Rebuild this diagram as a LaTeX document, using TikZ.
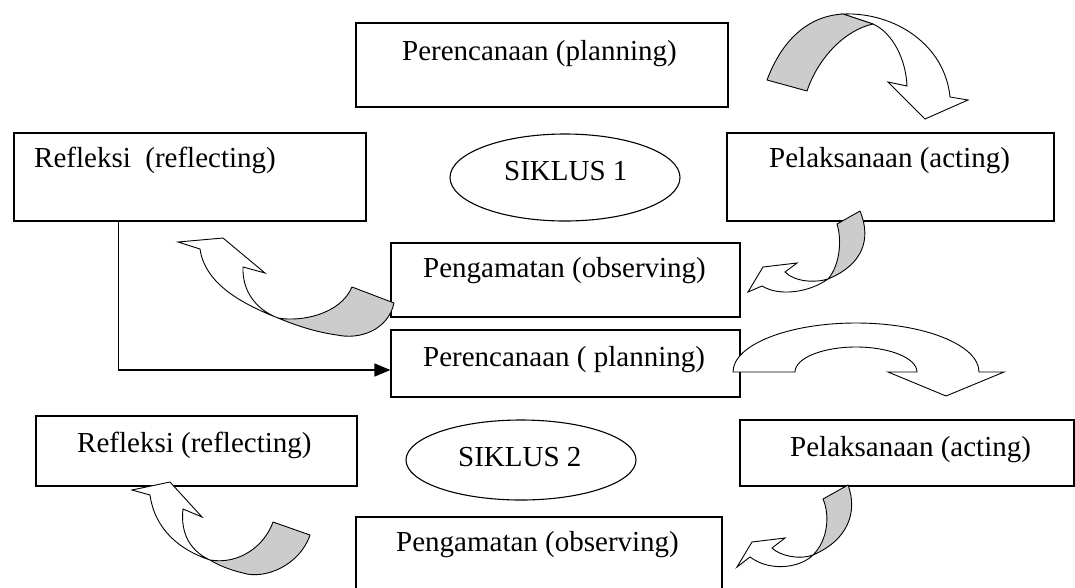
\documentclass[tikz,border=0pt]{standalone}
\usepackage{fontspec}
\setmainfont{Liberation Serif}
\usetikzlibrary{shapes.geometric,arrows.meta}
\begin{document}
\begin{tikzpicture}[x=1pt,y=-1pt,
  box/.style={draw, line width=1.2pt, rectangle, inner sep=0pt},
  oval/.style={draw, line width=1.1pt, ellipse, inner sep=0pt},
  lbl/.style={anchor=base west, inner sep=0pt, font=\fontsize{29}{34}\selectfont},
  band/.style={draw, line width=0.9pt, fill=white, line join=miter},
  shade/.style={draw, line width=0.9pt, fill=black!20, line join=round},
  conn/.style={draw, line width=1.4pt, -{Triangle[length=16pt,width=13pt]}}]
\useasboundingbox (0,0) rectangle (1075,587);

% boxes
\node[box, minimum width=372pt, minimum height=84pt] (P1) at (542,65) {};
\node[box, minimum width=352pt, minimum height=88pt] (R1) at (190,177) {};
\node[box, minimum width=327pt, minimum height=88pt] (A1) at (890.5,177) {};
\node[box, minimum width=349pt, minimum height=74pt] (O1) at (565.5,280) {};
\node[box, minimum width=349pt, minimum height=67pt] (P2) at (565.5,363.5) {};
\node[box, minimum width=321pt, minimum height=70pt] (R2) at (196.5,451) {};
\node[box, minimum width=334pt, minimum height=66pt] (A2) at (907,453) {};
\node[box, minimum width=366pt, minimum height=83pt] (O2) at (539,558.5) {};
\node[oval, minimum width=230pt, minimum height=87pt] (E1) at (565,177.5) {};
\node[oval, minimum width=230pt, minimum height=80pt] (E2) at (521,460) {};

% texts
\node[lbl] (t1) at (402,60) {Perencanaan (planning)};
\node[lbl] (t2) at (34,167) {Refleksi\ \ (reflecting)};
\node[lbl] (t3) at (504,180) {SIKLUS 1};
\node[lbl] (t4) at (769,167) {Pelaksanaan (acting)};
\node[lbl] (t5) at (423,277) {Pengamatan (observing)};
\node[lbl] (t6) at (423,366) {Perencanaan ( planning)};
\node[lbl] (t7) at (77,452) {Refleksi (reflecting)};
\node[lbl] (t8) at (458,466) {SIKLUS 2};
\node[lbl] (t9) at (790,456) {Pelaksanaan (acting)};
\node[lbl] (t10) at (396,551) {Pengamatan (observing)};

% connector from reflecting (cycle 1) to planning (cycle 2)
\draw[conn] ([xshift=105pt]R1.south west) |- ([yshift=-6.5pt]P2.west);

% Arrow A: planning -> acting (cycle 1)
\path[band] (843,14) .. controls (895,12) and (945,45) .. (950,97)
  -- (968,100) -- (925,119) -- (888,82) -- (907,86)
  .. controls (906,60) and (893,33) .. (873,24) -- cycle;
\path[shade] (767,80) .. controls (782,40) and (808,16) .. (843,14)
  -- (873,24) .. controls (845,30) and (818,58) .. (807,91) -- cycle;

% Arrow B: acting -> observing (cycle 1)
\path[band] (828,279) .. controls (810,292) and (780,297) .. (762,286)
  -- (748,292) -- (763,267) -- (797,263) -- (785,272)
  .. controls (795,282) and (815,283) .. (828,279) -- cycle;
\path[shade] (837,224) -- (860,211) .. controls (872,240) and (862,265) .. (828,279)
  .. controls (840,265) and (842,240) .. (837,224) -- cycle;

% Arrow C: observing -> reflecting (cycle 1)
\path[band] (178,242) -- (223,238) -- (265,273) -- (243,267)
  .. controls (242,292) and (257,310) .. (278,318)
  .. controls (245,305) and (205,285) .. (200,249) -- cycle;
\path[shade] (278,318) .. controls (300,322) and (340,315) .. (352,287)
  -- (394,303) .. controls (388,330) and (360,340) .. (337,335)
  .. controls (315,332) and (295,325) .. (278,318) -- cycle;

% Arrow D: planning -> acting (cycle 2)
\path[band] (733,372) arc[start angle=180, end angle=360, x radius=123, y radius=49]
  -- (1004,372) -- (946,396) -- (888,372) -- (917,372)
  arc[start angle=0, end angle=-180, x radius=61, y radius=25] -- cycle;

% Arrow E: acting -> observing (cycle 2)
\path[band] (813,555) .. controls (800,568) and (770,572) .. (750,557)
  -- (737,567) -- (752,542) -- (785,538) -- (772,548)
  .. controls (780,556) and (800,560) .. (813,555) -- cycle;
\path[shade] (823,499) -- (848,485) .. controls (858,512) and (848,540) .. (813,555)
  .. controls (828,540) and (830,515) .. (823,499) -- cycle;

% Arrow F: observing -> reflecting (cycle 2)
\path[band] (132,490) -- (170,482) -- (202,517) -- (183,509)
  .. controls (180,535) and (192,552) .. (210,560)
  .. controls (180,550) and (155,530) .. (150,495) -- cycle;
\path[shade] (210,560) .. controls (240,565) and (265,545) .. (273,522)
  -- (310,535) .. controls (300,565) and (265,580) .. (243,573)
  .. controls (230,570) and (218,565) .. (210,560) -- cycle;
\end{tikzpicture}
\end{document}
